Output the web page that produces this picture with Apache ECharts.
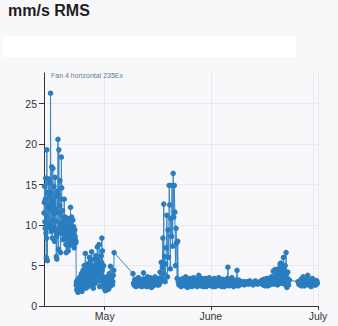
<!DOCTYPE html>
<html>
<head>
<meta charset="utf-8">
<script src="https://cdn.jsdelivr.net/npm/echarts@6/dist/echarts.min.js"></script>
<style>
html,body{margin:0;padding:0;background:#f8f8fb;}
#chart{width:338px;height:326px;}
</style>
</head>
<body>
<div id="chart"></div>
<script>
const chartTitle = "mm/s RMS";
const seriesName = "Fan 4 horizontal 235Ex";
const year = 2023;
const monthNames = ["January","February","March","April","May","June","July","August","September","October","November","December"];
const yTicks = [0, 5, 10, 15, 20, 25];
const axisStart = "04-13 06";
const axisEnd = "07-02 08";

// reading hours for day rows
const twoHourly = [0,2,4,6,8,10,12,14,16,18,20,22];
const fourHourly = [0,4,8,12,16,20];

// Explicit readings [MM-DD HH, mm/s]
const apr13Readings = [
["04-13 06",11.5],["04-13 08",12.8],["04-13 10",14.8],["04-13 12",10.4],["04-13 14",9.6],
["04-13 16",13.2],["04-13 18",15.8],["04-13 20",9.0],["04-13 22",6.0]
];
// Daily rows, two-hourly readings
const aprilBurstDays = [
["04-14",[8.4,19.3,11.0,5.6,14.0,12.4,9.8,15.7,12.0,10.2,15.2,13.5]],
["04-15",[9.6,12.4,26.3,14.0,11.8,9.2,17.2,12.8,8.4,10.6,17.0,13.0]],
["04-16",[12.6,9.8,14.8,11.4,8.0,12.0,15.9,9.4,10.5,13.6,6.1,8.6]],
["04-17",[5.8,9.0,14.2,11.6,20.6,13.8,7.0,19.3,9.6,11.5,12.4,15.5]],
["04-18",[10.2,6.6,9.0,13.2,18.4,14.6,9.0,10.0,11.8,9.6,8.2,11.0]],
["04-19",[10.5,8.8,13.2,10.0,9.4,8.6,11.0,9.8,7.6,6.6,10.2,9.6]],
["04-20",[9.0,8.2,10.8,9.4,6.8,8.6,9.6,7.4,10.8,9.0,7.9,8.4]],
["04-21",[12.2,8.8,9.2,10.0,11.0,9.0,8.0,9.6,10.6,8.4,7.6,9.8]],
["04-22",[9.0,7.2,8.0,9.4,8.6,8.2,7.8,8.0,2.6,3.0,2.0,2.4]]
];
const lateAprilDays = [
["04-23",[3.2,2.6,1.7,2.2,2.8,3.0,3.4,2.6,2.1,2.8,3.6,2.2]],
["04-24",[2.4,3.0,4.0,2.6,1.8,3.6,3.2,2.2,4.4,3.4,2.6,3.8]],
["04-25",[5.0,4.2,3.0,3.6,6.5,4.0,2.2,3.2,4.6,2.8,3.4,4.0]],
["04-26",[5.2,3.6,2.4,3.2,4.2,4.8,6.0,4.0,3.0,4.4,5.6,3.6]],
["04-27",[2.6,4.2,6.7,4.8,3.8,3.0,5.0,3.6,2.2,3.4,4.6,3.2]],
["04-28",[5.8,4.0,2.8,3.4,6.2,5.2,4.2,3.6,3.0,4.6,7.3,5.6]],
["04-29",[4.0,5.0,6.0,3.6,7.6,4.4,2.4,3.8,5.4,4.2,3.2,4.6]],
["04-30",[6.2,5.4,8.4,4.4,6.8,4.8,3.6,2.8,5.0,3.4,2.2,2.8]],
["05-01",[3.4,2.6,1.9,3.2,2.8,2.4,2.2,2.0,3.6,2.8,2.4,2.2]],
["05-02",[3.0,2.6,2.1,3.0,4.0,2.4,2.6,3.4,4.9,3.8,3.0,2.6]]
];
const may3Readings = [
["05-03 00",3.4],["05-03 03",3.0],["05-03 06",2.6],["05-03 09",3.0],["05-03 12",3.8],["05-03 15",4.4],["05-03 18",6.6],
["05-09 06",4.0],["05-09 10",2.8],["05-09 14",2.6],["05-09 18",3.2],["05-09 22",2.5]
];
// Daily rows, four-hourly readings
const mayBaselineDays = [
["05-10",[3.3,2.4,3.0,2.6,2.8,3.5]],
["05-11",[2.6,3.4,2.5,3.0,3.1,2.4]],
["05-12",[2.7,3.2,4.1,2.9,2.5,3.3]],
["05-13",[3.3,2.6,2.4,3.6,3.0,2.7]],
["05-14",[2.6,3.1,3.5,2.8,2.3,3.2]],
["05-15",[3.1,2.5,2.7,3.4,3.6,2.8]]
];
const maySpikeReadings = [
["05-16 00",3.0],["05-16 04",2.7],["05-16 08",2.6],["05-16 12",3.2],["05-16 16",3.4],["05-16 20",2.6],
["05-17 00",2.8],["05-17 04",4.2],["05-17 08",3.0],["05-17 12",5.4],["05-17 16",3.4],["05-17 20",4.8],
["05-18 00",8.4],["05-18 04",3.2],["05-18 06",12.6],["05-18 08",4.0],["05-18 12",6.1],["05-18 16",3.0],["05-18 20",5.2],
["05-19 00",7.2],["05-19 04",11.2],["05-19 08",3.6],["05-19 12",9.4],["05-19 16",6.0],["05-19 20",14.9],
["05-20 00",12.5],["05-20 04",4.6],["05-20 08",10.8],["05-20 12",8.6],["05-20 16",14.9],["05-20 20",7.4],
["05-21 00",16.4],["05-21 04",11.0],["05-21 08",14.9],["05-21 12",11.6],["05-21 16",5.0],["05-21 20",9.6],
["05-22 00",7.8],["05-22 04",3.4],["05-22 08",8.0],["05-22 12",3.0],["05-22 16",2.6],["05-22 20",3.1]
];
const juneBaselineDays = [
["05-23",[3.2,2.7,2.4,3.3,3.0,2.6]],
["05-24",[3.4,2.6,3.0,2.5,3.6,2.8]],
["05-25",[3.0,2.3,2.9,3.3,2.6,3.1]],
["05-26",[2.7,3.4,3.1,2.4,2.8,3.2]],
["05-27",[3.5,2.6,3.0,2.7,3.3,2.5]],
["05-28",[2.4,3.1,2.8,3.8,2.6,3.0]],
["05-29",[3.2,2.5,3.4,3.0,2.7,2.4]],
["05-30",[2.7,3.3,3.4,2.6,2.4,3.1]],
["05-31",[3.1,2.6,2.9,3.5,3.3,2.7]],
["06-01",[2.5,3.0,3.2,2.7,2.4,3.3]],
["06-02",[3.4,2.8,2.4,3.1,2.6,3.0]],
["06-03",[2.8,3.3,3.5,2.6,2.5,3.1]],
["06-04",[3.0,2.6,2.4,3.3,2.9,2.7]],
["06-05",[2.4,3.1,3.2,2.8,2.6,3.4]],
["06-06",[4.8,2.9,2.5,3.2,3.0,2.6]],
["06-07",[2.6,3.5,3.3,2.7,2.4,3.0]],
["06-08",[3.0,2.6,2.7,3.2,4.4,2.8]],
["06-09",[2.5,3.2,3.1,2.6,2.7,3.0]]
];
const juneSparseReadings = [
["06-10 08",2.8],["06-10 14",3.0],["06-10 20",2.6],["06-11 06",2.9],["06-11 12",3.0],
["06-12 00",2.7],["06-12 10",3.1],["06-12 16",2.9],["06-13 08",2.6],["06-13 18",2.9],
["06-14 00",3.1],["06-14 16",2.7],["06-15 08",3.0],["06-15 16",2.8]
];
const midJuneDays = [
["06-16",[3.2,2.7,2.6,3.3,3.0,2.5]],
["06-17",[2.8,3.1,3.4,2.6,2.5,3.2]],
["06-18",[3.1,2.6,2.7,3.4,3.6,2.9]]
];
const lateJuneBumpReadings = [
["06-19 00",2.8],["06-19 03",3.4],["06-19 06",4.3],["06-19 09",2.7],["06-19 12",3.0],["06-19 15",3.6],["06-19 18",4.5],["06-19 21",3.0],
["06-20 00",3.2],["06-20 03",3.8],["06-20 06",4.0],["06-20 09",2.9],["06-20 12",2.6],["06-20 15",3.4],["06-20 18",4.6],["06-20 21",3.6],
["06-21 00",3.4],["06-21 03",4.6],["06-21 06",5.2],["06-21 09",3.2],["06-21 12",5.3],["06-21 15",4.0],["06-21 18",2.8],["06-21 21",3.8],
["06-22 00",4.4],["06-22 03",3.2],["06-22 06",6.0],["06-22 09",4.8],["06-22 12",3.0],["06-22 15",4.2],["06-22 18",5.0],["06-22 21",2.6],
["06-23 00",6.6],["06-23 03",4.0],["06-23 06",2.3],["06-23 09",3.4],["06-23 12",4.2],["06-23 18",2.6],
["06-24 00",3.2],
["06-26 12",3.0],["06-26 18",2.7]
];
const julyTailDays = [
["06-27",[2.6,3.1,3.3,2.5,2.8,3.4]],
["06-28",[3.6,2.7,2.5,3.2,3.1,2.6]],
["06-29",[2.7,3.3,3.8,2.8,2.6,3.0]],
["06-30",[3.2,2.5,2.4,3.3,3.4,2.7]],
["07-01",[2.8,3.2,3.0,2.6,2.6,3.1]]
];
const july2Readings = [["07-02 00",3.1],["07-02 04",2.8]];

function toTime(s) {
  const md = s.slice(0, 5), hh = s.slice(6, 8);
  return new Date(year + "-" + md + "T" + hh + ":00:00").getTime();
}
function expandDays(days, hours) {
  const out = [];
  days.forEach(d => d[1].forEach((v, i) => {
    out.push([d[0] + " " + String(hours[i]).padStart(2, "0"), v]);
  }));
  return out;
}

const allReadings = [].concat(
  apr13Readings,
  expandDays(aprilBurstDays, twoHourly),
  expandDays(lateAprilDays, twoHourly),
  may3Readings,
  expandDays(mayBaselineDays, fourHourly),
  maySpikeReadings,
  expandDays(juneBaselineDays, fourHourly),
  juneSparseReadings,
  expandDays(midJuneDays, fourHourly),
  lateJuneBumpReadings,
  expandDays(julyTailDays, fourHourly),
  july2Readings
);
const seriesData = allReadings.map(p => [toTime(p[0]), p[1]]).sort((a, b) => a[0] - b[0]);

const chart = echarts.init(document.getElementById('chart'), null, {renderer: 'svg'});
chart.setOption({
  animation: false,
  backgroundColor: '#f8f8fb',
  title: [
    {text: chartTitle, left: 8, top: 2, padding: 0,
     textStyle: {fontFamily: 'Liberation Sans, Arial, sans-serif', fontSize: 16, fontWeight: 'bold', color: '#1e1e1e'}},
    {text: seriesName, left: 51, top: 72, padding: 0,
     textStyle: {fontFamily: 'Liberation Sans, Arial, sans-serif', fontSize: 7, fontWeight: 'normal', color: '#5f7893'}}
  ],
  graphic: [
    {type: 'rect', left: 3, top: 36, shape: {width: 293, height: 21}, style: {fill: '#ffffff'}, silent: true}
  ],
  grid: {left: 44, right: 20, top: 73, bottom: 20, containLabel: false},
  xAxis: {
    type: 'time',
    min: toTime(axisStart),
    max: toTime(axisEnd),
    splitNumber: 3,
    axisLine: {lineStyle: {color: '#333', width: 1}},
    axisTick: {show: true, length: 4, lineStyle: {color: '#333'}},
    axisLabel: {
      fontFamily: 'Liberation Sans, Arial, sans-serif', fontSize: 10.5, color: '#333', margin: 4,
      showMinLabel: false, showMaxLabel: true,
      formatter: function (v) { return monthNames[new Date(v).getMonth()]; }
    },
    splitLine: {show: true, lineStyle: {color: '#e8e9ee', width: 1}}
  },
  yAxis: {
    type: 'value',
    min: 0,
    max: 28.8,
    interval: 5,
    axisLine: {show: true, lineStyle: {color: '#333', width: 1}},
    axisTick: {show: true, length: 5, lineStyle: {color: '#333'}, customValues: yTicks},
    axisLabel: {fontFamily: 'Liberation Sans, Arial, sans-serif', fontSize: 10.5, color: '#333', margin: 7,
      customValues: yTicks},
    splitLine: {show: true, lineStyle: {color: ['#e8e9ee','#e8e9ee','#e8e9ee','#e8e9ee','#e8e9ee','#e8e9ee','rgba(0,0,0,0)'], width: 1}}
  },
  series: [{
    name: seriesName,
    type: 'line',
    data: seriesData,
    showSymbol: true,
    showAllSymbol: true,
    symbol: 'circle',
    symbolSize: 5.5,
    color: '#2a7dbf',
    lineStyle: {width: 1, color: '#3a88c6'},
    itemStyle: {color: '#2a7dbf'}
  }]
});
</script>
</body>
</html>
